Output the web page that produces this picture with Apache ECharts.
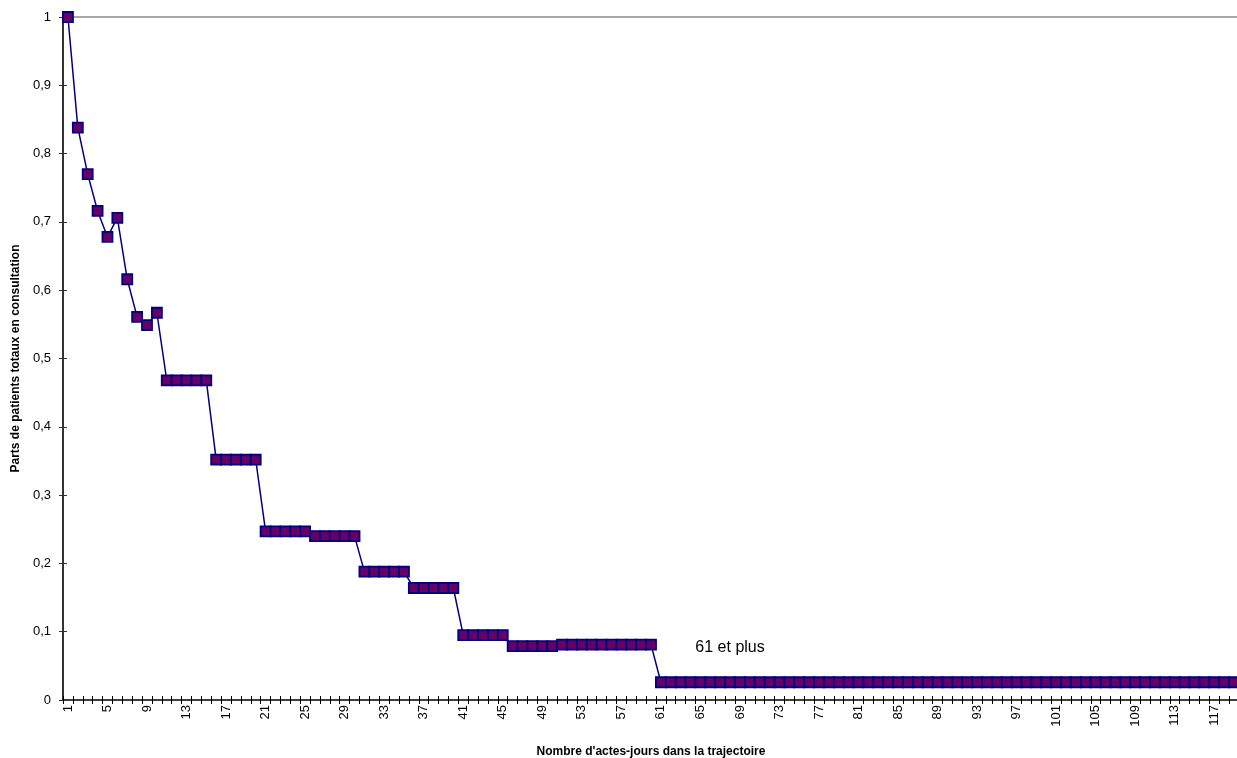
<!DOCTYPE html>
<html>
<head>
<meta charset="utf-8">
<script src="https://cdn.jsdelivr.net/npm/echarts@6/dist/echarts.min.js"></script>
<style>
html,body{margin:0;padding:0;background:#fff;}
#chart{width:1237px;height:758px;}
</style>
</head>
<body>
<div id="chart"></div>
<script>
// Categories: number of acts-days (1..119 visible)
const categories = [];
for (let i = 1; i <= 119; i++) categories.push(String(i));

// Share of total patients in consultation
const shares = [
  1.000, 0.838, 0.770, 0.716, 0.678, 0.706, 0.616, 0.561, 0.549, 0.567,
  0.468, 0.468, 0.468, 0.468, 0.468, 0.352, 0.352, 0.352, 0.352, 0.352,
  0.247, 0.247, 0.247, 0.247, 0.247, 0.240, 0.240, 0.240, 0.240, 0.240,
  0.188, 0.188, 0.188, 0.188, 0.188, 0.164, 0.164, 0.164, 0.164, 0.164,
  0.095, 0.095, 0.095, 0.095, 0.095, 0.079, 0.079, 0.079, 0.079, 0.079,
  0.081, 0.081, 0.081, 0.081, 0.081, 0.081, 0.081, 0.081, 0.081, 0.081,
  0.026, 0.026, 0.026, 0.026, 0.026, 0.026, 0.026, 0.026, 0.026, 0.026,
  0.026, 0.026, 0.026, 0.026, 0.026, 0.026, 0.026, 0.026, 0.026, 0.026,
  0.026, 0.026, 0.026, 0.026, 0.026, 0.026, 0.026, 0.026, 0.026, 0.026,
  0.026, 0.026, 0.026, 0.026, 0.026, 0.026, 0.026, 0.026, 0.026, 0.026,
  0.026, 0.026, 0.026, 0.026, 0.026, 0.026, 0.026, 0.026, 0.026, 0.026,
  0.026, 0.026, 0.026, 0.026, 0.026, 0.026, 0.026, 0.026, 0.026
];

// Annotation
const annotationText = '61 et plus';
const annotationAt = ['68', 0.076];

const xTitle = "Nombre d'actes-jours dans la trajectoire";
const yTitle = 'Parts de patients totaux en consultation';

const FONT = '"Liberation Sans", Arial, sans-serif';

const chart = echarts.init(document.getElementById('chart'), null, {renderer: 'canvas'});
chart.setOption({
  animation: false,
  backgroundColor: '#ffffff',
  grid: {left: 63, top: 17, right: -2, bottom: 58, containLabel: false, outerBoundsMode: 'none'},
  xAxis: [{
    type: 'category',
    data: categories,
    boundaryGap: true,
    position: 'bottom',
    name: xTitle,
    nameLocation: 'middle',
    nameGap: 46,
    nameTextStyle: {fontFamily: FONT, fontSize: 12, fontWeight: 'bold', color: '#000'},
    axisLine: {lineStyle: {color: '#000', width: 1.5}},
    axisTick: {show: true, interval: 0, length: 4, lineStyle: {color: '#000', width: 1}},
    axisLabel: {interval: 3, rotate: 90, fontFamily: FONT, fontSize: 13, color: '#000', margin: 5},
    splitLine: {show: false}
  }, {
    type: 'category',
    data: categories,
    boundaryGap: true,
    position: 'bottom',
    axisLine: {show: false},
    axisTick: {show: true, inside: true, interval: 0, length: 4, lineStyle: {color: '#000', width: 1}},
    axisLabel: {show: false},
    splitLine: {show: false}
  }, {
    type: 'category',
    data: categories,
    position: 'top',
    axisLine: {show: true, lineStyle: {color: '#8c8c8c', width: 1.5}},
    axisTick: {show: false},
    axisLabel: {show: false},
    splitLine: {show: false}
  }],
  yAxis: [{
    type: 'value',
    min: 0, max: 1, interval: 0.1,
    name: yTitle,
    nameLocation: 'middle',
    nameGap: 40,
    nameTextStyle: {fontFamily: FONT, fontSize: 12, fontWeight: 'bold', color: '#000'},
    axisLine: {show: true, lineStyle: {color: '#333', width: 2}},
    axisTick: {show: true, length: 4, lineStyle: {color: '#333', width: 1}},
    axisLabel: {
      fontFamily: FONT, fontSize: 13, color: '#000', margin: 12,
      formatter: v => String(Math.round(v * 10) / 10).replace('.', ',')
    },
    splitLine: {show: false}
  }, {
    type: 'value',
    min: 0, max: 1, interval: 0.1,
    position: 'left',
    axisLine: {show: false},
    axisTick: {show: true, inside: true, length: 4, lineStyle: {color: '#333', width: 1}},
    axisLabel: {show: false},
    splitLine: {show: false}
  }],
  series: [{
    type: 'line',
    xAxisIndex: 0,
    yAxisIndex: 0,
    data: shares,
    symbol: 'rect',
    symbolSize: 10,
    showAllSymbol: true,
    clip: false,
    lineStyle: {color: '#000080', width: 1.5},
    itemStyle: {color: '#660066', borderColor: '#000080', borderWidth: 1.8},
    markPoint: {
      symbol: 'rect',
      symbolSize: 0,
      silent: true,
      data: [{
        coord: annotationAt,
        label: {
          show: true,
          formatter: annotationText,
          fontFamily: FONT,
          fontSize: 16,
          color: '#000',
          position: 'inside'
        }
      }]
    }
  }]
});
</script>
</body>
</html>
